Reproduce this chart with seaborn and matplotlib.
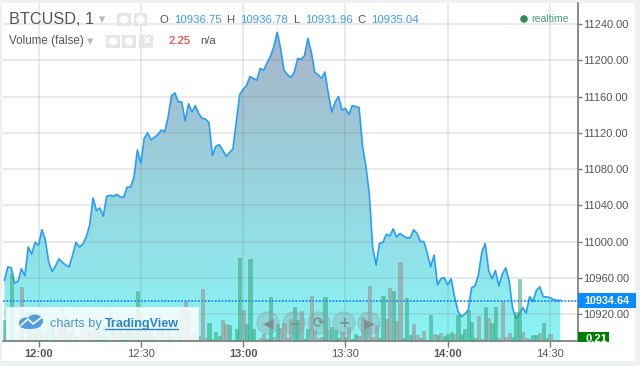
import numpy as np
import pandas as pd
import matplotlib.pyplot as plt
from matplotlib.colors import LinearSegmentedColormap
from matplotlib.patches import Rectangle, Ellipse
import seaborn as sns

# close price per minute, first point is 11:50
price = [10957, 10972, 10971, 10954, 10956, 10970, 10962, 10994, 10986, 10999,
         10996, 11013, 11002, 10977, 10967, 10973, 10981, 10977, 10974, 10972,
         10985, 10999, 10994, 10997, 11005, 11018, 11048, 11034, 11037, 11028,
         11050, 11051, 11050, 11052, 11049, 11049, 11060, 11060, 11071, 11101,
         11086, 11114, 11120, 11112, 11115, 11118, 11123, 11121, 11137, 11161,
         11164, 11154, 11154, 11133, 11152, 11143, 11150, 11141, 11136, 11135,
         11131, 11095, 11105, 11107, 11101, 11094, 11098, 11102, 11132, 11162,
         11168, 11172, 11182, 11180, 11178, 11191, 11189, 11197, 11204, 11215,
         11231, 11213, 11189, 11184, 11181, 11187, 11202, 11201, 11205, 11224,
         11209, 11187, 11184, 11180, 11187, 11163, 11143, 11154, 11160, 11145,
         11147, 11140, 11150, 11149, 11148, 11106, 11083, 11053, 10993, 10974,
         10998, 10999, 11008, 11006, 11014, 11005, 11009, 11006, 11004, 11004,
         11013, 11009, 11000, 11000, 10987, 10972, 10985, 10952, 10959, 10960,
         10952, 10959, 10939, 10923, 10917, 10920, 10924, 10949, 10951, 10963,
         10988, 10998, 10968, 10959, 10968, 10951, 10964, 10971, 10957, 10927,
         10915, 10920, 10927, 10921, 10939, 10934, 10946, 10950, 10939, 10939,
         10938, 10936, 10935, 10935]

volume = [4.2, 0.4, 13.5, 0.6, 0.6, 10.9, 0.6, 5.6, 5.8, 4.2,
          3.0, 1.6, 2.0, 3.8, 3.0, 1.0, 3.6, 6.6, 5.0, 1.6,
          3.0, 1.0, 0.8, 2.8, 3.2, 2.2, 3.0, 2.0, 1.8, 3.0,
          1.0, 5.6, 3.0, 2.0, 2.4, 1.4, 3.4, 2.8, 1.6, 10.0,
          5.4, 2.6, 3.0, 2.0, 1.0, 2.8, 3.2, 1.6, 2.6, 1.0,
          2.0, 3.2, 6.4, 8.0, 6.0, 1.5, 2.0, 1.0,
          10.5, 0.6, 3.6, 0.4, 1.8, 1.0, 4.2, 3.4, 3.3, 0.2,
          2.4, 16.6, 6.2, 3.4, 16.4, 2.4, 0.3, 0.7, 1.5, 0.5,
          8.8, 0.8, 3.4, 2.6, 3.6, 0.6, 4.4, 6.8, 4.2, 6.0,
          0.4, 2.4, 9.0, 2.2, 0.6, 0.8, 8.8, 2.2, 2.8, 2.2,
          0.7, 1.8, 0.8, 2.8, 0.4, 1.4, 1.0, 4.8, 3.4, 11.0,
          0.8, 3.2, 0.7, 9.0, 4.4, 10.6, 10.0, 4.0, 15.8, 0.7,
          8.6, 1.2, 3.4, 1.2, 0.6, 2.0, 0.2, 5.2, 1.4, 1.2,
          1.6, 1.0, 1.4, 1.8, 1.4, 5.2, 1.4, 2.4, 6.2, 3.8,
          0.6, 5.0, 0.4, 6.8, 4.6, 3.6, 6.8, 0.6, 8.0, 0.9,
          1.6, 0.8, 5.8, 12.4, 1.8, 0.6, 0.4, 1.2, 1.2, 1.6,
          3.6, 0.6, 1.4, 0.2, 0.21]

# 1 = up minute (green), 0 = down minute
up = [1, 0, 1, 0, 0, 0, 0, 1, 0, 1,
      0, 1, 1, 0, 1, 1, 0, 0, 1, 1,
      0, 1, 0, 0, 0, 1, 0, 1, 1, 1,
      1, 0, 1, 0, 1, 1, 1, 0, 1, 1,
      0, 1, 0, 1, 1, 0, 1, 0, 1, 1,
      0, 1, 0, 0, 0, 0, 0, 1,
      0, 0, 1, 0, 1, 1, 0, 0, 1, 1,
      1, 1, 0, 1, 1, 1, 0, 0, 0, 1,
      1, 0, 1, 0, 0, 0, 0, 1, 1, 0,
      1, 1, 0, 0, 0, 0, 1, 0, 1, 1,
      1, 0, 1, 0, 1, 1, 0, 0, 1, 0,
      0, 0, 1, 1, 0, 0, 1, 0, 0, 1,
      1, 1, 0, 0, 1, 0, 0, 1, 0, 1,
      0, 1, 1, 1, 0, 1, 1, 1, 1, 1,
      1, 0, 0, 1, 0, 1, 1, 0, 0, 0,
      0, 1, 1, 1, 0, 0, 0, 1, 1, 0,
      1, 1, 0, 1, 1]

time_ticks = [0, 30, 60, 90, 120, 150]
time_labels = ['12:00', '12:30', '13:00', '13:30', '14:00', '14:30']
price_ticks = [10920, 10960, 11000, 11040, 11080, 11120, 11160, 11200, 11240]
last_price = 10934.64
last_volume = 0.21
ohlc = [('O', '10936.75', 159, 174), ('H', '10936.78', 226, 240),
        ('L', '10931.96', 293, 305), ('C', '10935.04', 357, 371)]

sns.set_theme(style='white')
plt.rcParams['font.family'] = ['Liberation Sans', 'DejaVu Sans']


def px(x, y):
    # reference pixels to figure fraction
    return x / 640, 1 - y / 366


def label(x, y, s, size, color, **kw):
    fig.text(*px(x, y), s, fontsize=size, color=color, va='center', **kw)


def add_box(x, y, w, h, color, **kw):
    fig.add_artist(Rectangle(px(x, y + h), w / 640, h / 366, facecolor=color,
                             edgecolor='none', transform=fig.transFigure, **kw))


def add_round(x, y, rx, ry, color, **kw):
    fig.add_artist(Ellipse(px(x, y), 2 * rx / 640, 2 * ry / 366, facecolor=color,
                           transform=fig.transFigure, **kw))


fig = plt.figure(figsize=(6.4, 3.66), dpi=100, facecolor='#eef0f3')
add_box(2, 3, 633, 358, 'white', zorder=-1)
ax = fig.add_axes([3 / 640, 25 / 366, 575 / 640, 338 / 366])
ax.patch.set_alpha(0)

minutes = np.arange(len(price)) - 10
price_df = pd.DataFrame({'minute': minutes, 'price': price})
vol_df = pd.DataFrame({'minute': np.arange(len(volume)) - 10, 'volume': volume,
                       'side': ['up' if u else 'down' for u in up]})

xlim = (-10.41, 158.2)
ylim = (10890.2, 11263.2)

# area under the line, vertical gradient
cmap = LinearSegmentedColormap.from_list('area', ['#8af4f4', '#97d3de', '#abb2c6'])
grad = ax.imshow(np.linspace(0, 1, 256).reshape(-1, 1), cmap=cmap, aspect='auto',
                 origin='lower', extent=(*xlim, ylim[0], 11240), zorder=1)
fill = ax.fill_between(minutes, price, ylim[0], color='none', zorder=1)
grad.set_clip_path(fill.get_paths()[0], transform=ax.transData)

sns.lineplot(data=price_df, x='minute', y='price', color='#2a9df4', linewidth=1.2,
             ax=ax, zorder=3)
ax.axhline(last_price, color='#0078ff', linewidth=1.1, linestyle=(0, (1.2, 1)), zorder=5)

# volume bars, own scale on the same area
ax2 = ax.twinx()
sns.barplot(data=vol_df, x='minute', y='volume', hue='side', hue_order=['up', 'down'],
            dodge=False, native_scale=True, palette={'up': '#0bc278', 'down': '#b07d7d'},
            width=0.92, alpha=0.55, linewidth=0.5, legend=False, ax=ax2, zorder=4)
for bars, edge in zip(ax2.containers, ['#4f9e88', '#7f9494']):
    for b in bars:
        b.set_edgecolor(edge)
ax2.set_xlim(*xlim)
ax2.set_ylim(0, 67.6)
ax2.set_yticks([])
ax2.set_xlabel('')
ax2.set_ylabel('')
for s in ax2.spines.values():
    s.set_visible(False)

ax.set_xlim(*xlim)
ax.set_ylim(*ylim)
ax.set_xlabel('')
ax.set_ylabel('')
ax.yaxis.tick_right()
ax.set_yticks(price_ticks)
ax.set_yticklabels(['%.2f' % p for p in price_ticks], color='#555555', fontsize=8)
ax.set_xticks(time_ticks)
ax.set_xticklabels(time_labels, color='#555555', fontsize=8)
for t in ax.get_xticklabels():
    if t.get_text() in ('12:00', '13:00', '14:00'):
        t.set_fontweight('bold')
ax.tick_params(axis='x', length=4, width=1, color='#777777', pad=2, bottom=True)
ax.tick_params(axis='y', length=3, width=1, color='#777777', pad=0.5, right=True, left=False)
ax.grid(True, color='#808080', alpha=0.18, linewidth=1.3, zorder=2)
ax.set_axisbelow(False)
for s in ['top', 'left']:
    ax.spines[s].set_visible(False)
for s in ['bottom', 'right']:
    ax.spines[s].set_color('#777777')
    ax.spines[s].set_linewidth(1.2)

# header
label(9, 19.5, 'BTCUSD, 1', 11.7, '#555555')
label(99, 20, '▾', 9, '#bbbbbb')
add_box(117, 13, 14, 13, '#e6e6e6')
add_box(134, 13, 13, 13, '#e6e6e6')
add_round(124, 19.5, 4, 3, 'white')
add_round(140.5, 19.5, 3.5, 3.5, 'white')
for name, val, x1, x2 in ohlc:
    label(x1, 20, name, 8.2, '#555555')
    label(x2, 20, val, 8.2, '#3a9bf5')
label(9, 41, 'Volume (false)', 8.4, '#555555')
label(87, 42, '▾', 9, '#bbbbbb')
for bx in [106, 122, 139]:
    add_box(bx, 35, 14, 13, '#e6e6e6')
add_round(113, 41.5, 4, 3, 'white')
add_round(129, 41.5, 3.5, 3.5, 'white')
label(142.5, 41, '×', 10, 'white', fontweight='bold')
label(168, 41, '2.25', 8.2, '#ff2020')
label(200, 41, 'n/a', 8.2, '#555555')
add_round(524, 19, 3.8, 3.8, '#2e8b57', edgecolor='none')
label(531, 19.5, 'realtime', 7.6, '#449e7c')

# price tags
add_box(578, 293, 58, 15, '#0a8cff')
label(584, 301, '%.2f' % last_price, 7.8, 'white', fontweight='bold')
add_box(578, 332, 31, 10, '#008000')
zero = fig.text(*px(586, 339), '%.2f' % last_volume, fontsize=8, color='white',
                fontweight='bold', va='center')
zero.set_clip_path(Rectangle(px(578, 342), 31 / 640, 10 / 366, transform=fig.transFigure))

# watermark
add_box(6, 307, 193, 33, 'white', alpha=0.84, zorder=2)
add_round(26, 323, 7, 5.5, '#4f9fe0', edgecolor='none', zorder=3)
add_round(35, 321, 8, 6.5, '#4f9fe0', edgecolor='none', zorder=3)
add_round(30, 325, 11, 4, '#4f9fe0', edgecolor='none', zorder=3)
fig.add_artist(plt.Line2D([20 / 640, 28 / 640, 33 / 640, 42 / 640],
                          [1 - 326 / 366, 1 - 319 / 366, 1 - 324 / 366, 1 - 317 / 366],
                          color='white', linewidth=1.2, zorder=4))
label(50, 323.5, 'charts by', 9.2, '#4d94c4', zorder=4)
fig.text(*px(104.5, 323.5), 'TradingView', fontsize=9.1, color='#2a85c9', va='center',
         fontweight='bold', zorder=4)
fig.add_artist(plt.Line2D([104.5 / 640, 178 / 640], [1 - 328.5 / 366] * 2, color='#2a85c9',
                          linewidth=1, zorder=4))

# zoom buttons
for bx, glyph in zip([268, 294, 319, 344, 369], ['◀', '−', '⟳', '+', '▶']):
    add_round(bx, 323, 11, 11, '#8fa5a5', alpha=0.35, edgecolor='#8aa0a0', linewidth=1, zorder=3)
    fig.text(*px(bx, 323), glyph, fontsize=10, color='#7f9090', ha='center', va='center',
             fontweight='bold', zorder=4, family=['DejaVu Sans'])

fig.savefig('out.png', dpi=100, facecolor=fig.get_facecolor())
